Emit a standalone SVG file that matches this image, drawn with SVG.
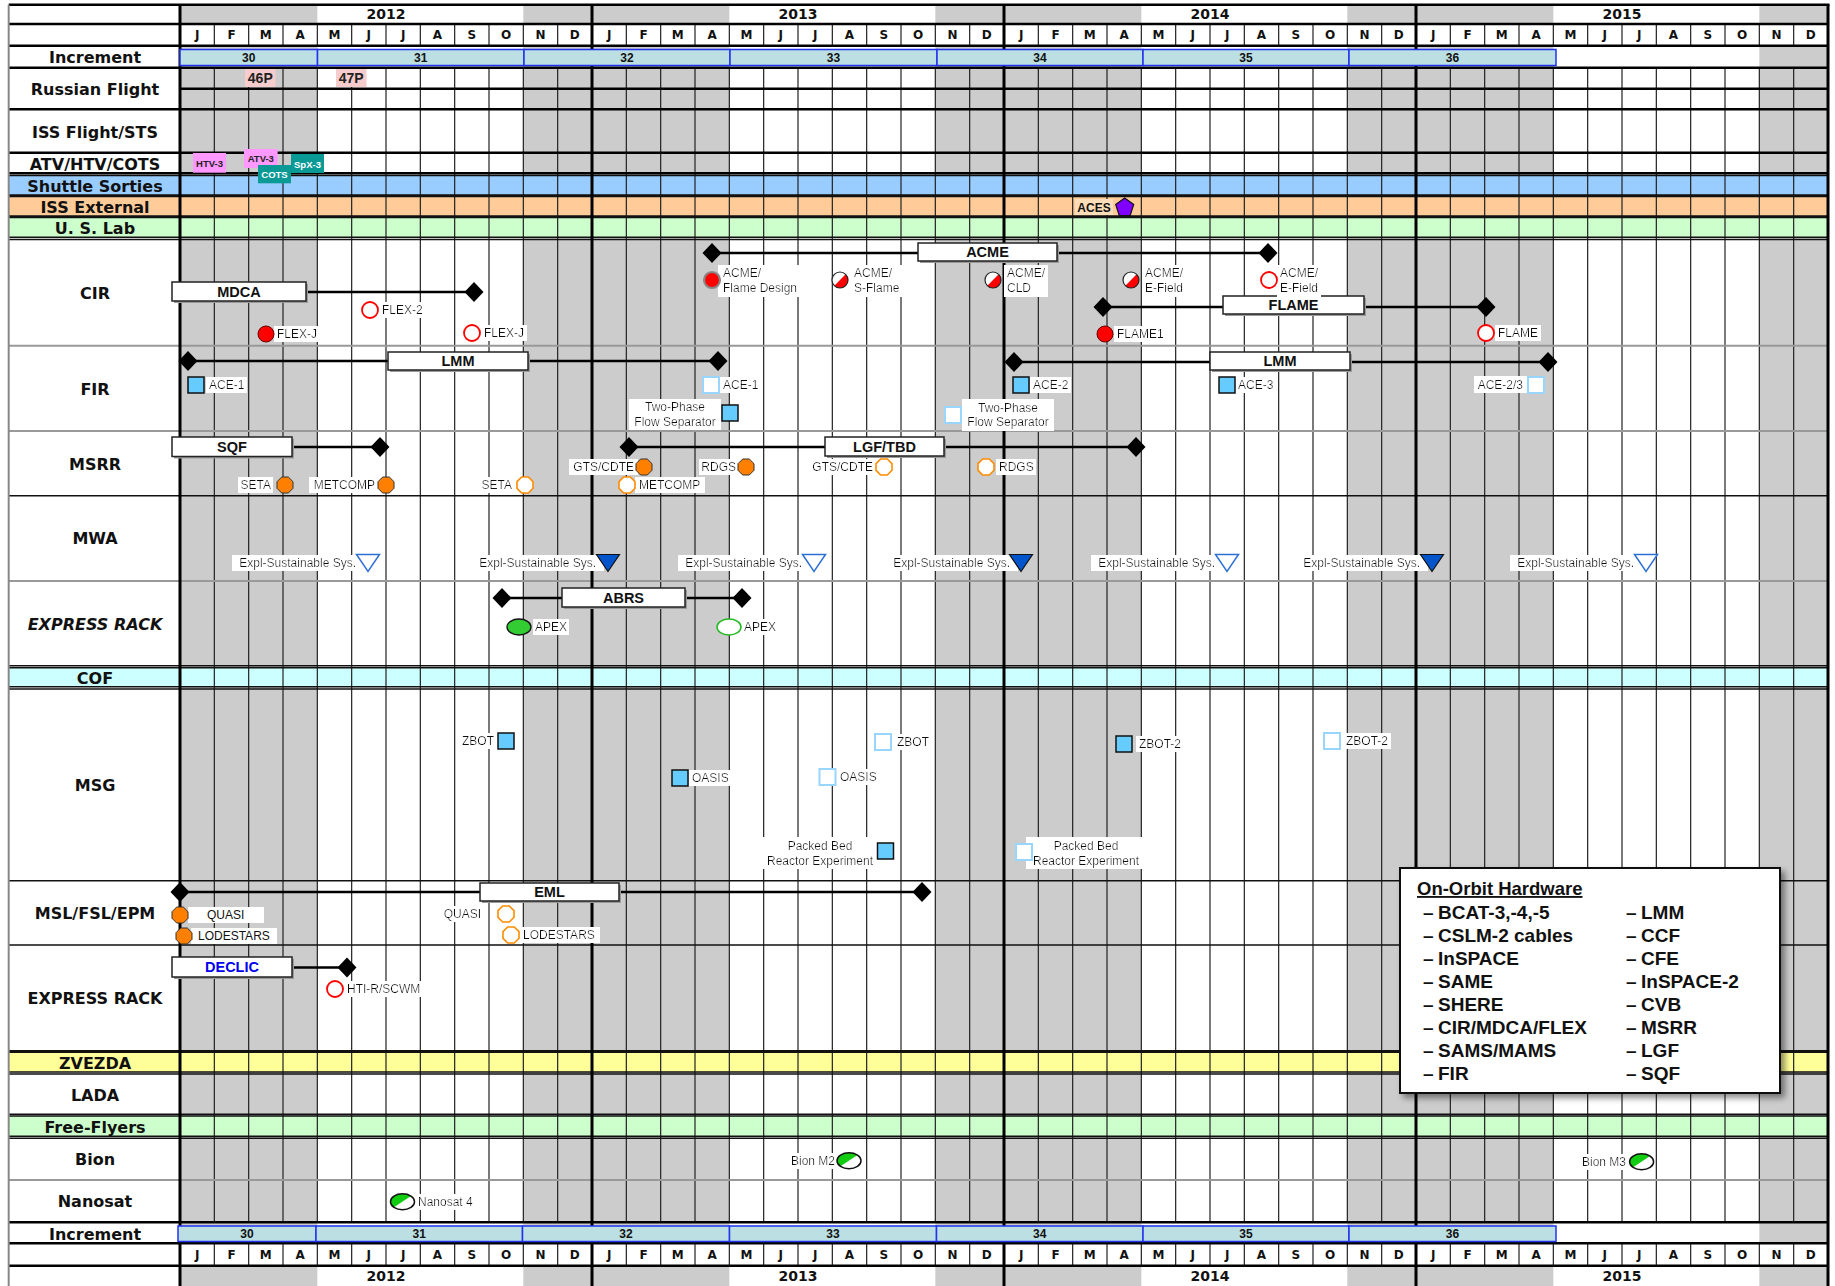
<svg xmlns="http://www.w3.org/2000/svg" width="1835" height="1286" viewBox="0 0 1835 1286">
<style>
.rl{font-family:"DejaVu Sans",Verdana,sans-serif;font-weight:bold;font-size:16px;text-anchor:middle;fill:#111}
.mo{font-family:"DejaVu Sans",Verdana,sans-serif;font-weight:bold;font-size:12px;text-anchor:middle;fill:#111}
.yr{font-family:"DejaVu Sans",Verdana,sans-serif;font-weight:bold;font-size:14px;text-anchor:middle;fill:#111}
.inc{font-family:"Liberation Sans",Arial,sans-serif;font-weight:bold;font-size:12px;text-anchor:middle;fill:#111}
.ib{fill:#BBDFE3;stroke:#2233EE;stroke-width:1.5}
.lb{font-family:"Liberation Sans",Arial,sans-serif;font-size:12px;fill:#111}
.bgt{filter:url(#bg)}
.end{text-anchor:end}
.mid{text-anchor:middle}
.tb{fill:#fff;stroke:#222;stroke-width:1.5}
.sh{fill:#9a9a9a}
.tbt{font-family:"Liberation Sans",Arial,sans-serif;font-weight:bold;font-size:14.5px;text-anchor:middle;fill:#111}
.ln{stroke:#000;stroke-width:2.5;fill:none}
.hk{stroke:#000;stroke-width:2.5}
.ht{stroke:#111;stroke-width:1.5}
.hg{stroke:#999;stroke-width:2}
.ml{stroke:#222;stroke-width:1.2}
.yl{stroke:#000;stroke-width:3}
.fb{font-family:"Liberation Sans",Arial,sans-serif;font-weight:bold;font-size:9.5px;text-anchor:middle}
.lg{font-family:"Liberation Sans",Arial,sans-serif;font-weight:bold;font-size:19px;fill:#111}
.cf{fill:#f00;stroke:#600;stroke-width:1}
.co{fill:#fff;stroke:#f00;stroke-width:1.8}
.of{fill:#FF8000;stroke:#333;stroke-width:1}
.oo{fill:#fff;stroke:#FF8C00;stroke-width:1.6}
.sf{fill:#66CCFF;stroke:#111;stroke-width:1.5}
.so{fill:#fff;stroke:#99D6FF;stroke-width:2}
.tf{fill:#0055CC;stroke:#111;stroke-width:1.2}
.to{fill:#fff;stroke:#2E6FD6;stroke-width:1.5}
</style>
<defs>
<filter id="bg" x="-0.06" y="-0.04" width="1.12" height="1.08"><feFlood flood-color="#fff"/><feComposite in="SourceGraphic"/></filter>
<filter id="ds" x="-0.05" y="-0.05" width="1.12" height="1.15"><feDropShadow dx="4" dy="4" stdDeviation="3" flood-color="#000" flood-opacity="0.45"/></filter>
<path id="dm" d="M0,-10L9.5,0L0,10L-9.5,0Z"/>
<polygon id="oc" points="8,3.3 3.3,8 -3.3,8 -8,3.3 -8,-3.3 -3.3,-8 3.3,-8 8,-3.3"/>
<rect id="sq" x="0" y="0" width="16" height="16"/>
<polygon id="tr" points="-11.5,-8.5 11.5,-8.5 0,8.5"/>
<g id="hr"><circle r="8" fill="#fff"/><path d="M5.66,-5.66A8,8 0 0 1 -5.66,5.66Z" fill="#f00"/><circle r="8" fill="none" stroke="#222" stroke-width="1.2"/></g>
<g id="hgr"><ellipse rx="12" ry="8" fill="#fff"/><path d="M-8.49,5.66A12,8 0 0 1 8.49,-5.66Z" fill="#11CC11"/><ellipse rx="12" ry="8" fill="none" stroke="#111" stroke-width="1.5"/></g>
<path id="mlp" d="M0 24V45.7M0 67.7V1222.3M0 1243.3V1265.7"/>
<g id="my">
<text class="mo" x="197.17" y="39.2">J</text><text class="mo" x="231.5" y="39.2">F</text><text class="mo" x="265.83" y="39.2">M</text><text class="mo" x="300.17" y="39.2">A</text><text class="mo" x="334.5" y="39.2">M</text><text class="mo" x="368.83" y="39.2">J</text><text class="mo" x="403.17" y="39.2">J</text><text class="mo" x="437.5" y="39.2">A</text><text class="mo" x="471.83" y="39.2">S</text><text class="mo" x="506.17" y="39.2">O</text><text class="mo" x="540.5" y="39.2">N</text><text class="mo" x="574.83" y="39.2">D</text>
</g>
<g id="mrow"><use href="#my"/><use href="#my" x="412"/><use href="#my" x="824"/><use href="#my" x="1236"/></g>
</defs>

<g id="background">
<rect x="0" y="0" width="1835" height="1286" fill="#fff"/>
<g fill="#CCCCCC">
<rect x="180" y="4.7" width="137.33" height="1281.3"/>
<rect x="523.33" y="4.7" width="206" height="1281.3"/>
<rect x="935.33" y="4.7" width="206" height="1281.3"/>
<rect x="1347.33" y="4.7" width="206" height="1281.3"/>
<rect x="1759.33" y="4.7" width="68.67" height="1281.3"/>
</g>
<rect x="180" y="24" width="1648" height="21.7" fill="#fff"/>
<rect x="180" y="1243.3" width="1648" height="22.4" fill="#fff"/>
<rect x="8.7" y="175.5" width="1819.3" height="19.5" fill="#99CCFF"/>
<rect x="8.7" y="196.5" width="1819.3" height="19.5" fill="#FFCC99"/>
<rect x="8.7" y="217.5" width="1819.3" height="19.8" fill="#CCFFCC"/>
<rect x="8.7" y="667.7" width="1819.3" height="19" fill="#CCFFFF"/>
<rect x="8.7" y="1052.3" width="1819.3" height="19.7" fill="#FFFF99"/>
<rect x="8.7" y="1116" width="1819.3" height="20.3" fill="#CCFFCC"/>
</g>

<g id="grid">
<g class="ml">
<use href="#mlp" x="214.33"/><use href="#mlp" x="248.67"/><use href="#mlp" x="283"/><use href="#mlp" x="317.33"/><use href="#mlp" x="351.67"/><use href="#mlp" x="386"/><use href="#mlp" x="420.33"/><use href="#mlp" x="454.67"/><use href="#mlp" x="489"/><use href="#mlp" x="523.33"/><use href="#mlp" x="557.67"/>
<use href="#mlp" x="626.33"/><use href="#mlp" x="660.67"/><use href="#mlp" x="695"/><use href="#mlp" x="729.33"/><use href="#mlp" x="763.67"/><use href="#mlp" x="798"/><use href="#mlp" x="832.33"/><use href="#mlp" x="866.67"/><use href="#mlp" x="901"/><use href="#mlp" x="935.33"/><use href="#mlp" x="969.67"/>
<use href="#mlp" x="1038.33"/><use href="#mlp" x="1072.67"/><use href="#mlp" x="1107"/><use href="#mlp" x="1141.33"/><use href="#mlp" x="1175.67"/><use href="#mlp" x="1210"/><use href="#mlp" x="1244.33"/><use href="#mlp" x="1278.67"/><use href="#mlp" x="1313"/><use href="#mlp" x="1347.33"/><use href="#mlp" x="1381.67"/>
<use href="#mlp" x="1450.33"/><use href="#mlp" x="1484.67"/><use href="#mlp" x="1519"/><use href="#mlp" x="1553.33"/><use href="#mlp" x="1587.67"/><use href="#mlp" x="1622"/><use href="#mlp" x="1656.33"/><use href="#mlp" x="1690.67"/><use href="#mlp" x="1725"/><use href="#mlp" x="1759.33"/><use href="#mlp" x="1793.67"/>
</g>
<path class="hg" d="M8.7 345.7H1828M8.7 431H1828M8.7 581H1828M8.7 1180H1828"/>
<path class="ht" d="M8.7 175.5H1828M8.7 195H1828M8.7 196.5H1828M8.7 216H1828M8.7 217.5H1828M8.7 237.3H1828M8.7 239.5H1828M8.7 495.7H1828M8.7 665.7H1828M8.7 667.7H1828M8.7 686.7H1828M8.7 689H1828M8.7 880.7H1828M8.7 945H1828M8.7 1050.7H1828M8.7 1052.3H1828M8.7 1072H1828M8.7 1074H1828M8.7 1114.3H1828M8.7 1116H1828M8.7 1136.3H1828M8.7 1138.3H1828"/>
<path class="hk" d="M8.7 4.7H1829.5M8.7 24H1828M8.7 45.7H1828M8.7 67.7H1828M180 88.7H1828M8.7 109.3H1828M8.7 152.7H1828M8.7 173.3H1828M8.7 1222.3H1828M8.7 1243.3H1828M8.7 1265.7H1828"/>
<path d="M8.7 4.7V1286" stroke="#888" stroke-width="2"/>
<path class="yl" d="M180 4.7V1286M592 4.7V1286M1004 4.7V1286M1416 4.7V1286M1828 4.7V1286"/>
</g>

<g id="header">
<text class="yr" x="386" y="19.2">2012</text><text class="yr" x="798" y="19.2">2013</text><text class="yr" x="1210" y="19.2">2014</text><text class="yr" x="1622" y="19.2">2015</text>
<use href="#mrow"/>
<use href="#mrow" y="1219.65"/>
<text class="yr" x="386" y="1281">2012</text><text class="yr" x="798" y="1281">2013</text><text class="yr" x="1210" y="1281">2014</text><text class="yr" x="1622" y="1281">2015</text>
</g>

<g id="row-labels">
<text class="rl" x="95" y="62.5">Increment</text>
<text class="rl" x="95" y="95.1">Russian Flight</text>
<text class="rl" x="95" y="138.1">ISS Flight/STS</text>
<text class="rl" x="95" y="169.8">ATV/HTV/COTS</text>
<text class="rl" x="95" y="191.8">Shuttle Sorties</text>
<text class="rl" x="95" y="213.1">ISS External</text>
<text class="rl" x="95" y="233.8">U. S. Lab</text>
<text class="rl" x="95" y="299.1">CIR</text>
<text class="rl" x="95" y="395.1">FIR</text>
<text class="rl" x="95" y="470.1">MSRR</text>
<text class="rl" x="95" y="544.1">MWA</text>
<text class="rl" x="95" y="630.1" font-style="italic">EXPRESS RACK</text>
<text class="rl" x="95" y="683.8">COF</text>
<text class="rl" x="95" y="790.8">MSG</text>
<text class="rl" x="95" y="919.1">MSL/FSL/EPM</text>
<text class="rl" x="95" y="1003.8">EXPRESS RACK</text>
<text class="rl" x="95" y="1069.1">ZVEZDA</text>
<text class="rl" x="95" y="1100.8">LADA</text>
<text class="rl" x="95" y="1133.1">Free-Flyers</text>
<text class="rl" x="95" y="1165.1">Bion</text>
<text class="rl" x="95" y="1206.8">Nanosat</text>
<text class="rl" x="95" y="1239.8">Increment</text>
</g>

<g id="increments-top">
<rect class="ib" x="180" y="49.5" width="137.5" height="16"/><rect class="ib" x="317.5" y="49.5" width="206.5" height="16"/><rect class="ib" x="524" y="49.5" width="206" height="16"/><rect class="ib" x="730" y="49.5" width="207" height="16"/><rect class="ib" x="937" y="49.5" width="206" height="16"/><rect class="ib" x="1143" y="49.5" width="206" height="16"/><rect class="ib" x="1349" y="49.5" width="207" height="16"/>
<text class="inc" x="248.75" y="62">30</text><text class="inc" x="420.75" y="62">31</text><text class="inc" x="627" y="62">32</text><text class="inc" x="833.5" y="62">33</text><text class="inc" x="1040" y="62">34</text><text class="inc" x="1246" y="62">35</text><text class="inc" x="1452.5" y="62">36</text>
</g>
<g id="increments-bottom">
<rect class="ib" x="178" y="1226" width="138" height="15.5"/><rect class="ib" x="316" y="1226" width="206.5" height="15.5"/><rect class="ib" x="522.5" y="1226" width="207" height="15.5"/><rect class="ib" x="729.5" y="1226" width="207" height="15.5"/><rect class="ib" x="936.5" y="1226" width="206.5" height="15.5"/><rect class="ib" x="1143" y="1226" width="206" height="15.5"/><rect class="ib" x="1349" y="1226" width="207" height="15.5"/>
<text class="inc" x="247" y="1238.3">30</text><text class="inc" x="419.25" y="1238.3">31</text><text class="inc" x="626" y="1238.3">32</text><text class="inc" x="833" y="1238.3">33</text><text class="inc" x="1039.75" y="1238.3">34</text><text class="inc" x="1246" y="1238.3">35</text><text class="inc" x="1452.5" y="1238.3">36</text>
</g>

<g id="flights">
<rect x="245" y="69" width="30.6" height="18" fill="#F6CCCC"/><text x="260.3" y="83" font-family="Liberation Sans, Arial, sans-serif" font-weight="bold" font-size="14" text-anchor="middle" fill="#222">46P</text>
<rect x="336" y="69" width="30.5" height="18" fill="#F6CCCC"/><text x="351.25" y="83" font-family="Liberation Sans, Arial, sans-serif" font-weight="bold" font-size="14" text-anchor="middle" fill="#222">47P</text>
<rect x="193" y="153" width="33" height="19.7" fill="#FF99FF"/><text class="fb" x="209.5" y="167.4" fill="#222">HTV-3</text>
<rect x="244" y="149" width="33.6" height="19" fill="#FF99FF"/><text class="fb" x="260.8" y="162" fill="#222">ATV-3</text>
<rect x="258" y="165" width="33" height="18.3" fill="#0A9A96"/><text class="fb" x="274.5" y="177.6" fill="#fff">COTS</text>
<rect x="291" y="154" width="33" height="19" fill="#0A9A96"/><text class="fb" x="307.5" y="167.6" fill="#fff">SpX-3</text>
</g>

<g id="iss-external">
<rect x="1075" y="199" width="38" height="16" fill="#FFDDB8"/>
<text x="1094" y="211.5" font-family="Liberation Sans, Arial, sans-serif" font-weight="bold" font-size="12" text-anchor="middle" fill="#111">ACES</text>
<polygon points="1124.7,198 1133.7,204.5 1130.2,215.5 1119.2,215.5 1115.7,204.5" fill="#7F00FF" stroke="#111" stroke-width="1.2"/>
</g>

<g id="connectors">
<path class="ln" d="M306 292H474M188 361H718M712 253H1268M1103 307H1486M1014 362H1548M292 447H380M629 447H1136M502 598H742M180 892H922M292 967.5H347"/>
</g>

<g id="cir">
<rect class="sh" x="174" y="284" width="134" height="19"/><rect class="tb" x="172" y="282" width="134" height="19"/><text class="tbt" x="239" y="296.7">MDCA</text>
<use href="#dm" x="474" y="292"/>
<rect class="sh" x="920" y="245" width="139" height="18"/><rect class="tb" x="918" y="243" width="139" height="18"/><text class="tbt" x="987.5" y="257.2">ACME</text>
<use href="#dm" x="712" y="253"/><use href="#dm" x="1268" y="253"/>
<rect class="sh" x="1225" y="298" width="141" height="18"/><rect class="tb" x="1223" y="296" width="141" height="18"/><text class="tbt" x="1293.5" y="310.2">FLAME</text>
<use href="#dm" x="1103" y="307"/><use href="#dm" x="1486" y="307"/>
<text class="lb bgt" x="277" y="338.3">FLEX-J</text><circle class="cf" cx="266" cy="334" r="8"/>
<text class="lb bgt" x="382" y="314.3">FLEX-2</text><circle class="co" cx="370" cy="310" r="8"/>
<text class="lb bgt" x="484" y="337.3">FLEX-J</text><circle class="co" cx="472" cy="333" r="8"/>
<text class="lb bgt" x="723"><tspan x="723" y="277.3">ACME/</tspan><tspan x="723" y="292">Flame Design</tspan></text><circle cx="712" cy="280" r="8" fill="#f00" stroke="#888" stroke-width="2.2"/>
<text class="lb bgt" x="854"><tspan x="854" y="277.3">ACME/</tspan><tspan x="854" y="292">S-Flame</tspan></text><use href="#hr" x="840" y="280"/>
<text class="lb bgt" x="1007"><tspan x="1007" y="277.3">ACME/</tspan><tspan x="1007" y="292">CLD</tspan></text><use href="#hr" x="993" y="280"/>
<text class="lb bgt" x="1145"><tspan x="1145" y="277.3">ACME/</tspan><tspan x="1145" y="292">E-Field</tspan></text><use href="#hr" x="1131" y="280"/>
<text class="lb bgt" x="1280"><tspan x="1280" y="277.3">ACME/</tspan><tspan x="1280" y="292">E-Field</tspan></text><circle class="co" cx="1269" cy="280" r="8"/>
<text class="lb bgt" x="1117" y="338.3">FLAME1</text><circle class="cf" cx="1105" cy="334" r="8"/>
<text class="lb bgt" x="1498" y="337.3">FLAME</text><circle class="co" cx="1486" cy="333" r="8"/>
</g>

<g id="fir">
<use href="#dm" x="188" y="361"/><use href="#dm" x="718" y="361"/>
<rect class="sh" x="390" y="354" width="140" height="18"/><rect class="tb" x="388" y="352" width="140" height="18"/><text class="tbt" x="458" y="366.2">LMM</text>
<use href="#dm" x="1014" y="362"/><use href="#dm" x="1548" y="362"/>
<rect class="sh" x="1212" y="354" width="140" height="18"/><rect class="tb" x="1210" y="352" width="140" height="18"/><text class="tbt" x="1280" y="366.2">LMM</text>
<text class="lb bgt" x="209" y="389.3">ACE-1</text><use href="#sq" class="sf" x="188" y="377"/>
<text class="lb bgt" x="723" y="389">ACE-1</text><use href="#sq" class="so" x="703" y="377"/>
<text class="lb bgt mid" x="675"><tspan x="675" y="411.3">Two-Phase</tspan><tspan x="675" y="425.5">Flow Separator</tspan></text><use href="#sq" class="sf" x="722" y="405"/>
<text class="lb bgt mid" x="1008"><tspan x="1008" y="411.5">Two-Phase</tspan><tspan x="1008" y="426">Flow Separator</tspan></text><use href="#sq" class="so" x="945" y="407"/>
<text class="lb bgt" x="1033" y="389">ACE-2</text><use href="#sq" class="sf" x="1013" y="377"/>
<text class="lb bgt" x="1238" y="389">ACE-3</text><use href="#sq" class="sf" x="1219" y="377"/>
<text class="lb bgt end" x="1523" y="388.5">ACE-2/3</text><use href="#sq" class="so" x="1528" y="377"/>
</g>

<g id="msrr">
<rect class="sh" x="174" y="439" width="120" height="19.5"/><rect class="tb" x="172" y="437" width="120" height="19.5"/><text class="tbt" x="232" y="451.9">SQF</text>
<use href="#dm" x="380" y="447"/>
<use href="#dm" x="629" y="447"/><use href="#dm" x="1136" y="447"/>
<rect class="sh" x="827" y="439" width="119" height="19"/><rect class="tb" x="825" y="437" width="119" height="19"/><text class="tbt" x="884.5" y="451.7">LGF/TBD</text>
<text class="lb bgt end" x="271" y="489.3">SETA</text><use href="#oc" class="of" x="285" y="485"/>
<text class="lb bgt end" x="375" y="489.3">METCOMP</text><use href="#oc" class="of" x="386" y="485"/>
<text class="lb bgt end" x="512" y="489.3">SETA</text><use href="#oc" class="oo" x="525" y="485"/>
<text class="lb bgt end" x="634" y="471.3">GTS/CDTE</text><use href="#oc" class="of" x="644" y="467"/>
<text class="lb bgt" x="639" y="489.3">METCOMP</text><use href="#oc" class="oo" x="627" y="485"/>
<text class="lb bgt end" x="736" y="471.3">RDGS</text><use href="#oc" class="of" x="746" y="467"/>
<text class="lb bgt end" x="873" y="471.3">GTS/CDTE</text><use href="#oc" class="oo" x="884" y="467"/>
<text class="lb bgt" x="999" y="471.3">RDGS</text><use href="#oc" class="oo" x="986" y="467"/>
</g>

<g id="mwa">
<text class="lb bgt end" x="356" y="567.3">Expl-Sustainable Sys.</text><use href="#tr" class="to" x="368" y="563"/>
<text class="lb bgt end" x="596" y="567.3">Expl-Sustainable Sys.</text><use href="#tr" class="tf" x="608" y="563"/>
<text class="lb bgt end" x="802" y="567.3">Expl-Sustainable Sys.</text><use href="#tr" class="to" x="814" y="563"/>
<text class="lb bgt end" x="1010" y="567.3">Expl-Sustainable Sys.</text><use href="#tr" class="tf" x="1021" y="563"/>
<text class="lb bgt end" x="1215" y="567.3">Expl-Sustainable Sys.</text><use href="#tr" class="to" x="1227" y="563"/>
<text class="lb bgt end" x="1420" y="567.3">Expl-Sustainable Sys.</text><use href="#tr" class="tf" x="1432" y="563"/>
<text class="lb bgt end" x="1634" y="567.3">Expl-Sustainable Sys.</text><use href="#tr" class="to" x="1646" y="563"/>
</g>

<g id="express-rack-1">
<rect class="sh" x="564" y="590" width="123" height="19"/><rect class="tb" x="562" y="588" width="123" height="19"/><text class="tbt" x="623.5" y="602.7">ABRS</text>
<use href="#dm" x="502" y="598"/><use href="#dm" x="742" y="598"/>
<text class="lb bgt" x="535" y="631.3">APEX</text><ellipse cx="519" cy="627" rx="12" ry="8" fill="#33CC33" stroke="#111" stroke-width="1.3"/>
<text class="lb bgt" x="744" y="631.3">APEX</text><ellipse cx="729" cy="627" rx="12" ry="8" fill="#fff" stroke="#22BB22" stroke-width="1.5"/>
</g>

<g id="msg">
<text class="lb bgt end" x="494" y="745.3">ZBOT</text><use href="#sq" class="sf" x="498" y="733"/>
<text class="lb bgt" x="692" y="782.3">OASIS</text><use href="#sq" class="sf" x="672" y="770"/>
<text class="lb bgt" x="840" y="781">OASIS</text><use href="#sq" class="so" x="819.5" y="769"/>
<text class="lb bgt" x="897" y="746.3">ZBOT</text><use href="#sq" class="so" x="875" y="734"/>
<text class="lb bgt mid" x="820"><tspan x="820" y="850">Packed Bed</tspan><tspan x="820" y="864.5">Reactor Experiment</tspan></text><use href="#sq" class="sf" x="877.5" y="843"/>
<text class="lb bgt mid" x="1086"><tspan x="1086" y="850">Packed Bed</tspan><tspan x="1086" y="864.5">Reactor Experiment</tspan></text><use href="#sq" class="so" x="1016" y="844"/>
<text class="lb bgt" x="1139" y="748">ZBOT-2</text><use href="#sq" class="sf" x="1116" y="736"/>
<text class="lb bgt" x="1346" y="745">ZBOT-2</text><use href="#sq" class="so" x="1324" y="733"/>
</g>

<g id="msl">
<rect class="sh" x="482" y="885" width="139" height="18"/><rect class="tb" x="480" y="883" width="139" height="18"/><text class="tbt" x="549.5" y="897.2">EML</text>
<use href="#dm" x="180" y="892"/><use href="#dm" x="922" y="892"/>
<rect x="188" y="907" width="76" height="16" fill="#fff"/>
<rect x="191" y="928" width="86" height="16" fill="#fff"/>
<text class="lb" x="207" y="919.3">QUASI</text><use href="#oc" class="of" x="180" y="915"/>
<text class="lb" x="198" y="940.3">LODESTARS</text><use href="#oc" class="of" x="184" y="936"/>
<text class="lb bgt end" x="481" y="918.3">QUASI</text><use href="#oc" class="oo" x="506" y="914"/>
<text class="lb bgt" x="523" y="939.3">LODESTARS</text><use href="#oc" class="oo" x="511" y="935"/>
</g>

<g id="express-rack-2">
<rect class="sh" x="174" y="959" width="120" height="20"/><rect class="tb" x="172" y="957" width="120" height="20"/><text class="tbt" x="232" y="972.4" style="fill:#0000EE">DECLIC</text>
<use href="#dm" x="347" y="967.5"/>
<text class="lb bgt" x="347" y="993.3">HTI-R/SCWM</text><circle class="co" cx="335" cy="989" r="8"/>
</g>

<g id="free-flyers">
<text class="lb bgt end" x="835" y="1165">Bion M2</text><use href="#hgr" x="849" y="1160.7"/>
<text class="lb bgt end" x="1626" y="1166">Bion M3</text><use href="#hgr" x="1641.6" y="1161.7"/>
<text class="lb bgt" x="418" y="1206">Nanosat 4</text><use href="#hgr" x="402.5" y="1201.7"/>
</g>

<g id="legend">
<rect x="1400" y="868" width="380" height="225" fill="#fff" stroke="#111" stroke-width="2" filter="url(#ds)"/>
<text x="1417" y="895" font-family="Liberation Sans, Arial, sans-serif" font-weight="bold" font-size="18.5" text-decoration="underline" fill="#111">On-Orbit Hardware</text>
<g class="lg">
<text x="1423" y="918.6">–</text><text x="1438" y="918.6">BCAT-3,-4,-5</text>
<text x="1423" y="941.7">–</text><text x="1438" y="941.7">CSLM-2 cables</text>
<text x="1423" y="964.8">–</text><text x="1438" y="964.8">InSPACE</text>
<text x="1423" y="987.9">–</text><text x="1438" y="987.9">SAME</text>
<text x="1423" y="1011">–</text><text x="1438" y="1011">SHERE</text>
<text x="1423" y="1034.1">–</text><text x="1438" y="1034.1">CIR/MDCA/FLEX</text>
<text x="1423" y="1057.2">–</text><text x="1438" y="1057.2">SAMS/MAMS</text>
<text x="1423" y="1080.3">–</text><text x="1438" y="1080.3">FIR</text>
<text x="1626" y="918.6">–</text><text x="1641" y="918.6">LMM</text>
<text x="1626" y="941.7">–</text><text x="1641" y="941.7">CCF</text>
<text x="1626" y="964.8">–</text><text x="1641" y="964.8">CFE</text>
<text x="1626" y="987.9">–</text><text x="1641" y="987.9">InSPACE-2</text>
<text x="1626" y="1011">–</text><text x="1641" y="1011">CVB</text>
<text x="1626" y="1034.1">–</text><text x="1641" y="1034.1">MSRR</text>
<text x="1626" y="1057.2">–</text><text x="1641" y="1057.2">LGF</text>
<text x="1626" y="1080.3">–</text><text x="1641" y="1080.3">SQF</text>
</g>
</g>
</svg>
